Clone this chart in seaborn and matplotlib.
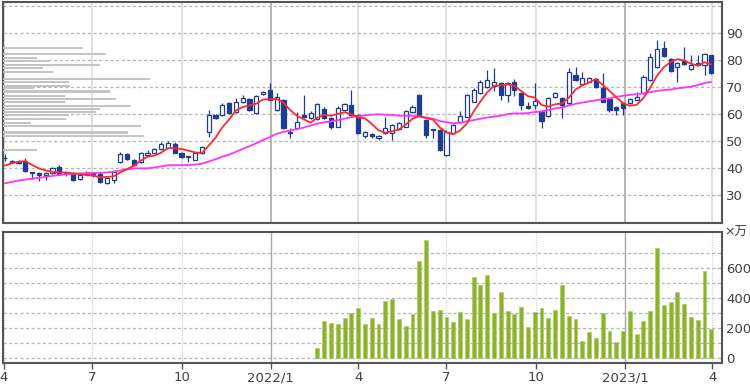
import numpy as np
import pandas as pd
import matplotlib
matplotlib.use("Agg")
import matplotlib.pyplot as plt
import seaborn as sns

# ---------------- data ----------------
week_start = "2021-04-02"
n_weeks = 105

opens = [43.5, 42.5, 42.0, 42.6, 38.5, 38.3, 37.5, 38.1, 40.4, 38.3,
         38.1, 35.9, 38.3, 38.2, 37.8, 34.4, 35.6, 42.2, 45.2, 43.0,
         42.2, 44.8, 45.7, 47.0, 47.4, 48.9, 45.6, 44.2, 43.0, 45.6,
         53.4, 59.6, 59.6, 64.0, 60.8, 64.5, 65.5, 60.4, 67.4, 68.9,
         61.5, 65.2, 53.3, 54.8, 59.6, 58.5, 58.1, 61.9, 58.5, 55.2,
         61.5, 63.3, 59.6, 51.9, 52.5, 51.0, 52.8, 52.8, 54.3, 55.3,
         60.9, 67.0, 57.8, 54.2, 54.0, 44.8, 52.8, 57.1, 59.0, 64.6,
         67.7, 69.9, 70.4, 71.4, 67.0, 72.0, 67.7, 63.0, 63.3, 61.2,
         59.3, 66.4, 65.8, 64.0, 74.4, 71.1, 72.0, 72.8, 69.5, 65.4,
         62.7, 64.0, 64.2, 65.2, 67.7, 72.6, 77.5, 84.3, 80.3, 77.5,
         79.7, 76.6, 78.8, 78.1, 81.8]
highs = [45.0, 43.0, 43.0, 43.5, 38.6, 38.6, 38.6, 40.5, 41.0, 38.4,
         38.5, 38.0, 38.8, 38.6, 38.3, 36.6, 39.0, 46.0, 45.6, 43.3,
         46.0, 46.5, 47.5, 49.5, 50.0, 49.5, 46.0, 44.5, 46.0, 48.3,
         61.5, 60.0, 64.0, 64.5, 65.8, 67.0, 66.0, 67.2, 68.5, 71.5,
         67.8, 65.5, 54.8, 60.8, 67.0, 61.0, 64.0, 62.5, 59.0, 63.0,
         64.0, 68.9, 60.0, 53.6, 53.0, 52.3, 58.8, 56.3, 57.0, 61.5,
         63.5, 67.3, 58.2, 54.4, 54.5, 54.0, 56.3, 61.0, 67.5, 69.5,
         72.5, 76.3, 76.9, 72.0, 72.0, 72.8, 68.0, 64.5, 71.4, 61.6,
         66.2, 68.3, 66.2, 76.9, 77.5, 75.7, 73.6, 73.5, 75.0, 66.0,
         63.0, 64.5, 66.0, 68.0, 74.5, 82.5, 87.4, 87.0, 80.8, 79.4,
         85.0, 82.0, 82.0, 82.5, 82.0]
lows = [42.5, 41.8, 41.5, 38.5, 36.0, 35.0, 35.5, 37.8, 37.5, 37.0,
        35.3, 35.6, 37.3, 36.8, 34.5, 34.0, 34.5, 42.0, 43.0, 40.8,
        42.0, 44.5, 45.5, 46.8, 47.2, 45.5, 43.8, 42.3, 42.8, 45.3,
        51.5, 58.0, 59.3, 60.0, 60.5, 64.2, 61.0, 60.0, 67.0, 65.0,
        61.0, 54.5, 51.1, 54.5, 58.5, 58.0, 57.8, 58.0, 54.5, 55.0,
        61.0, 59.0, 52.5, 51.2, 51.2, 50.5, 52.4, 50.4, 54.0, 55.0,
        60.5, 59.3, 51.0, 51.0, 46.3, 44.5, 52.5, 56.8, 58.7, 64.3,
        67.4, 69.5, 68.5, 65.2, 64.6, 66.5, 61.5, 61.8, 61.7, 54.7,
        59.0, 66.0, 58.4, 63.5, 72.3, 70.8, 71.7, 69.8, 64.3, 60.8,
        59.6, 59.6, 63.8, 65.0, 67.3, 72.3, 77.2, 81.2, 75.7, 72.0,
        78.2, 76.3, 77.8, 74.4, 74.7]
closes = [43.8, 42.2, 42.3, 38.9, 38.3, 37.4, 38.3, 40.0, 37.8, 38.1,
          35.6, 37.4, 37.6, 37.2, 34.8, 36.3, 38.5, 45.0, 43.3, 41.1,
          45.6, 45.7, 47.0, 48.9, 49.3, 45.7, 44.1, 44.0, 45.7, 47.9,
          59.6, 58.5, 63.3, 60.4, 64.6, 66.0, 61.5, 66.7, 68.0, 65.2,
          66.3, 54.8, 53.0, 57.0, 58.9, 60.4, 63.7, 58.5, 55.2, 62.2,
          63.7, 59.6, 53.0, 53.4, 51.9, 51.9, 54.9, 55.9, 56.5, 61.1,
          62.7, 59.6, 52.2, 54.0, 46.7, 53.4, 55.9, 59.3, 67.0, 68.9,
          72.0, 72.6, 72.0, 67.0, 71.4, 68.9, 63.3, 62.1, 64.9, 57.5,
          65.8, 67.7, 63.3, 75.7, 72.6, 73.4, 73.2, 70.1, 64.6, 61.5,
          61.5, 62.1, 65.5, 66.4, 73.8, 81.0, 84.0, 81.5, 76.0, 79.0,
          78.5, 78.1, 78.1, 82.2, 75.0]
# weekly closes before the window (feed the moving averages at the start)
prior_closes = [28.5, 29.0, 29.5, 29.0, 29.5, 29.5, 30.0, 30.0, 31.0, 32.0,
                33.0, 34.0, 35.0, 35.0, 32.0, 31.5, 32.0, 32.5, 33.5, 44.0,
                46.0, 38.2, 39.3, 37.9, 45.3]
# volume (x 10,000 shares), first reported week index 46
volume_start = 46
volumes = [65, 247, 233, 222, 262, 300, 329, 224, 267, 225,
           378, 391, 258, 211, 289, 647, 785, 313, 318, 273,
           240, 302, 256, 536, 485, 551, 296, 436, 311, 289,
           340, 203, 307, 333, 262, 316, 485, 278, 256, 111,
           173, 129, 300, 178, 102, 178, 311, 156, 247, 311,
           733, 351, 369, 436, 358, 273, 251, 580, 191]
# volume-at-price profile (relative units)
vp_price = [84.6, 82.1, 80.6, 79.6, 78.1, 76.9, 75.7, 73.1, 72.0, 70.4,
            69.5, 68.3, 66.8, 65.6, 64.4, 63.0, 61.9, 60.7, 59.6, 58.1,
            56.8, 55.6, 53.1, 51.9, 46.7]
vp_amount = [78, 100, 33, 46, 94, 39, 49, 143, 64, 65,
             30, 104, 60, 110, 60, 125, 94, 91, 64, 61,
             27, 134, 122, 137, 33]
tick_dates = ["2021-04-01", "2021-07-01", "2021-10-01", "2022-01-01", "2022-04-01",
              "2022-07-01", "2022-10-01", "2023-01-01", "2023-04-01"]
tick_labels = ["4", "7", "10", "2022/1", "4", "7", "10", "2023/1", "4"]
price_ticks = [30, 40, 50, 60, 70, 80, 90]
volume_ticks = [0, 200, 400, 600]

# ---------------- frame ----------------
dates = pd.date_range(week_start, periods=n_weeks, freq="7D")
df = pd.DataFrame({"date": dates, "open": opens, "high": highs,
                   "low": lows, "close": closes})
all_close = pd.Series(prior_closes + closes)
df["ma5"] = all_close.rolling(5).mean().iloc[len(prior_closes):].values
df["ma26"] = all_close.rolling(26).mean().iloc[len(prior_closes):].values
vol = np.full(n_weeks, np.nan)
vol[volume_start:volume_start + len(volumes)] = volumes
df["volume"] = vol

sns.set_theme(style="white")
plt.rcParams["font.family"] = ["DejaVu Sans", "Noto Sans CJK JP"]

fig = plt.figure(figsize=(7.5, 3.85), dpi=100)
ax = fig.add_axes([0.004, 0.4216, 0.9587, 0.5732])
axv = fig.add_axes([0.004, 0.0579, 0.9587, 0.3387], sharex=ax)

navy = "#1f3c93"
spine_c = "#555555"
txt_c = "#404040"

x0 = pd.Timestamp("2021-03-31")
x1 = pd.Timestamp("2023-04-11")

# vertical grid
for d, lab in zip(tick_dates, tick_labels):
    year = "/" in lab
    ax.axvline(pd.Timestamp(d), color="#a8a8a8" if year else "#dcdcdc",
               lw=1.2, zorder=0)
    axv.axvline(pd.Timestamp(d), color="#a8a8a8" if year else "#d0d0d0",
                lw=1.0 if year else 0.9, ls="-" if year else (0, (1, 1)), zorder=0)

# horizontal grid
for p in range(20, 101, 10):
    ax.axhline(p, color="#b4b4b4", lw=0.9, ls=(0, (2.5, 2)), zorder=0)
for v in range(0, 701, 100):
    axv.axhline(v, color="#b4b4b4", lw=0.9, ls=(0, (2.5, 2)), zorder=0)

# volume profile (twin axis sharing the price scale)
axp = ax.twiny()
axp.patch.set_visible(False)
axp.barh(vp_price, vp_amount, height=0.8, color="#c4c4c4",
         edgecolor="none", linewidth=0, zorder=1)
axp.set_xlim(0, 700)
axp.axis("off")

# candles
up = df["close"] >= df["open"]
ax.vlines(df["date"], df["low"], df["high"], color=navy, lw=0.9, zorder=2)
body_lo = np.minimum(df["open"], df["close"])
body_h = np.maximum(np.abs(df["close"] - df["open"]), 0.25)
ax.bar(df["date"][up], body_h[up], bottom=body_lo[up], width=4.3,
       color="white", edgecolor=navy, linewidth=0.9, zorder=3)
ax.bar(df["date"][~up], body_h[~up], bottom=body_lo[~up], width=4.3,
       color=navy, edgecolor=navy, linewidth=0.9, zorder=3)

# moving averages
sns.lineplot(data=df, x="date", y="ma26", ax=ax, color="#ff33ff", lw=1.3, zorder=4)
sns.lineplot(data=df, x="date", y="ma5", ax=ax, color="#ff2a2a", lw=1.3, zorder=5)

# volume bars
axv.bar(df["date"], df["volume"], width=4.0, color="#8cb32c",
        edgecolor="#a9c95a", linewidth=0.4, zorder=2)

# axes styling
ax.set_xlim(x0, x1)
ax.set_ylim(19.7, 101.5)
axv.set_ylim(-33, 836)

for a in (ax, axv):
    for s in a.spines.values():
        s.set_color(spine_c)
        s.set_linewidth(1.5)
    a.set_xlabel("")
    a.set_ylabel("")
    a.yaxis.tick_right()

ax.set_yticks(price_ticks)
ax.set_yticklabels([str(t) for t in price_ticks])
axv.set_yticks(volume_ticks)
axv.set_yticklabels([str(t) for t in volume_ticks])
for a in (ax, axv):
    a.tick_params(axis="y", right=True, left=False, length=0, pad=3,
                  labelsize=9.5, labelcolor=txt_c)

ax.tick_params(axis="x", bottom=False, labelbottom=False)
axv.set_xticks([pd.Timestamp(d) for d in tick_dates])
axv.set_xticklabels(tick_labels)
axv.tick_params(axis="x", bottom=True, length=4, width=1, color=spine_c,
                labelsize=9.5, labelcolor=txt_c, pad=2)

fig.text(0.966, 0.397, "×万", fontsize=9, color=txt_c, va="center", ha="left",
         family=["DejaVu Sans", "Noto Sans CJK JP"])

fig.savefig("out.png", dpi=100)
